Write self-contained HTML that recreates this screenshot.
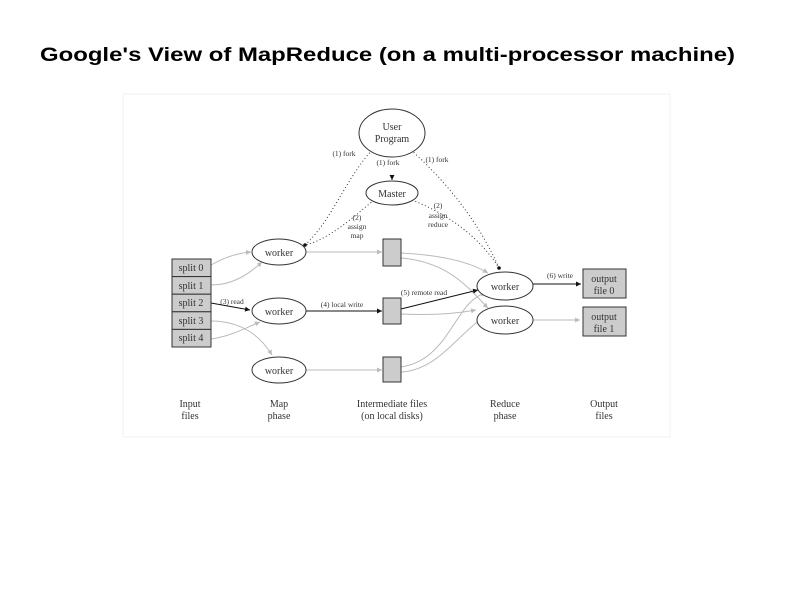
<!DOCTYPE html>
<html><head><meta charset="utf-8"><style>
html,body{margin:0;padding:0;background:#fff;width:794px;height:595px;overflow:hidden}
svg{display:block}
.t{font-family:"Liberation Serif",serif;fill:#333}
</style></head><body>
<svg width="794" height="595" viewBox="0 0 794 595" xmlns="http://www.w3.org/2000/svg">
<defs>
<marker id="ag" markerWidth="6" markerHeight="6" refX="5" refY="3" orient="auto"><path d="M0,0.5 L5,3 L0,5.5z" fill="#bbb"/></marker>
<marker id="ab" markerWidth="6" markerHeight="6" refX="5" refY="3" orient="auto"><path d="M0,0.5 L5,3 L0,5.5z" fill="#111"/></marker>
</defs>
<text x="40" y="61" font-family="Liberation Sans,Arial,sans-serif" font-weight="bold" font-size="19" textLength="695" lengthAdjust="spacingAndGlyphs" fill="#000">Google's View of MapReduce (on a multi-processor machine)</text>
<rect x="123" y="94" width="547" height="343" fill="#fff" stroke="#f0f0f0"/>
<g fill="none" stroke="#bbb" stroke-width="1">
<path d="M211,265 C225,257 238,253 251,252" marker-end="url(#ag)"/>
<path d="M211,285 C232,285 248,275 262,262" marker-end="url(#ag)"/>
<path d="M211,339 C232,336 245,328 260,322" marker-end="url(#ag)"/>
<path d="M211,321 C240,321 260,335 272,355" marker-end="url(#ag)"/>
<path d="M306,252 L382,252" marker-end="url(#ag)"/>
<path d="M306,370 L382,370" marker-end="url(#ag)"/>
<path d="M401,253 C440,255 470,262 488,273" marker-end="url(#ag)"/>
<path d="M401,258 C450,262 470,290 488,308" marker-end="url(#ag)"/>
<path d="M401,314 C440,316 465,312 476,310" marker-end="url(#ag)"/>
<path d="M401,367 C450,360 455,300 486,293" marker-end="url(#ag)"/>
<path d="M401,372 C440,370 460,330 488,315" marker-end="url(#ag)"/>
<path d="M533,320 L580,320" marker-end="url(#ag)"/>
</g>
<g fill="none" stroke="#111" stroke-width="1">
<path d="M211,303 L250,310" marker-end="url(#ab)"/>
<path d="M306,311 L382,311" marker-end="url(#ab)"/>
<path d="M401,309 L478,290" marker-end="url(#ab)"/>
<path d="M533,284 L581,284" marker-end="url(#ab)"/>
<path d="M392,175 L392,180" marker-end="url(#ab)"/>
</g>
<g fill="none" stroke="#333" stroke-width="1" stroke-dasharray="1,2.5">
<path d="M372,150 C345,180 332,220 305,245"/>
<path d="M374,200 C350,220 330,238 306,245"/>
<path d="M411,150 C450,185 480,225 499,268"/>
<path d="M412,200 C450,215 480,238 499,268"/>
</g>
<circle cx="305" cy="245" r="1.8" fill="#111"/><circle cx="499" cy="268" r="1.8" fill="#111"/>
<g fill="#fff" stroke="#333" stroke-width="1">
<ellipse cx="392" cy="133" rx="33" ry="24"/>
<ellipse cx="392" cy="193" rx="26" ry="12"/>
<ellipse cx="279" cy="252" rx="27" ry="13"/>
<ellipse cx="279" cy="311" rx="27" ry="13"/>
<ellipse cx="279" cy="370" rx="27" ry="13"/>
<ellipse cx="505" cy="286" rx="28" ry="14"/>
<ellipse cx="505" cy="320" rx="28" ry="14"/>
</g>
<g fill="#ccc" stroke="#333" stroke-width="1">
<rect x="172" y="259" width="39" height="17.6"/><rect x="172" y="276.6" width="39" height="17.6"/>
<rect x="172" y="294.2" width="39" height="17.6"/><rect x="172" y="311.8" width="39" height="17.6"/>
<rect x="172" y="329.4" width="39" height="17.6"/>
<rect x="383" y="239" width="18" height="27"/><rect x="383" y="298" width="18" height="26"/>
<rect x="383" y="357" width="18" height="25"/>
<rect x="583" y="269" width="43" height="29"/><rect x="583" y="307" width="43" height="29"/>
</g>
<g class="t" font-size="10" text-anchor="middle">
<text x="392" y="130">User</text><text x="392" y="142">Program</text>
<text x="392" y="197">Master</text>
<text x="279" y="256">worker</text><text x="279" y="315">worker</text><text x="279" y="374">worker</text>
<text x="505" y="290">worker</text><text x="505" y="324">worker</text>
<text x="191" y="271">split 0</text><text x="191" y="289">split 1</text><text x="191" y="306">split 2</text>
<text x="191" y="324">split 3</text><text x="191" y="341">split 4</text>
<text x="604" y="282">output</text><text x="604" y="294">file 0</text>
<text x="604" y="320">output</text><text x="604" y="332">file 1</text>
<text x="190" y="407">Input</text><text x="190" y="419">files</text>
<text x="279" y="407">Map</text><text x="279" y="419">phase</text>
<text x="392" y="407">Intermediate files</text><text x="392" y="419">(on local disks)</text>
<text x="505" y="407">Reduce</text><text x="505" y="419">phase</text>
<text x="604" y="407">Output</text><text x="604" y="419">files</text>
</g>
<g class="t" font-size="7.5" text-anchor="middle">
<text x="344" y="156">(1) fork</text><text x="388" y="165">(1) fork</text><text x="437" y="162">(1) fork</text>
<text x="357" y="220">(2)</text><text x="357" y="229">assign</text><text x="357" y="238">map</text>
<text x="438" y="208">(2)</text><text x="438" y="218">assign</text><text x="438" y="227">reduce</text>
<text x="232" y="304">(3) read</text><text x="342" y="307">(4) local write</text>
<text x="424" y="295">(5) remote read</text><text x="560" y="278">(6) write</text>
</g>
</svg>
</body></html>
